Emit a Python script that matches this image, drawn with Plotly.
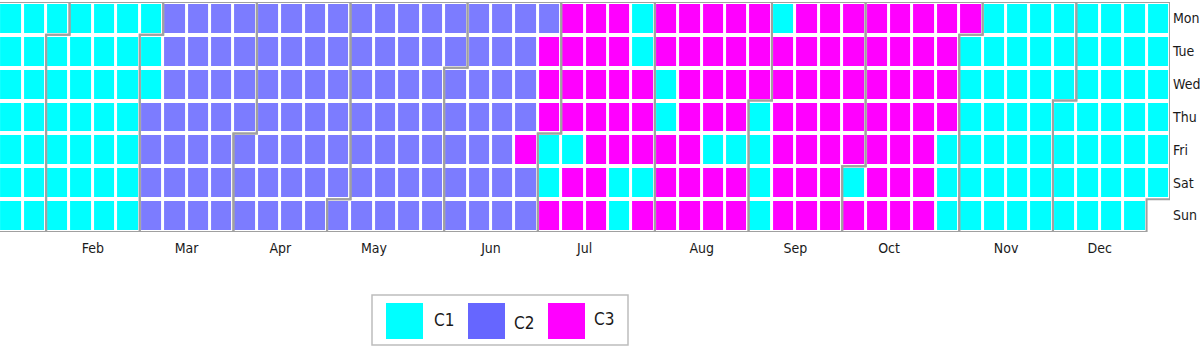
import datetime as dt
import plotly.graph_objects as go

# Calendar for 2022: one column per week (weeks start on Monday 2021-12-27),
# one list per weekday. 1 = C1, 2 = C2, 3 = C3, None = day outside the year.
YEAR = 2022
WEEKDAYS = ["Mon", "Tue", "Wed", "Thu", "Fri", "Sat", "Sun"]

MON = [None, 1, 1, 1, 1, 1, 1, 1, 1, 1, 2, 2, 2, 2, 2, 2, 2, 2, 2, 2, 2, 2, 2, 2, 2, 2, 2,
       3, 3, 3, 1, 3, 3, 3, 3, 3, 1, 3, 3, 3, 3, 3, 3, 3, 3, 1, 1, 1, 1, 1, 1, 1, 1]
TUE = [None, 1, 1, 1, 1, 1, 1, 1, 1, 1, 2, 2, 2, 2, 2, 2, 2, 2, 2, 2, 2, 2, 2, 2, 2, 2, 3,
       3, 3, 3, 1, 3, 3, 3, 3, 3, 3, 3, 3, 3, 3, 3, 3, 3, 1, 1, 1, 1, 1, 1, 1, 1, 1]
WED = [None, 1, 1, 1, 1, 1, 1, 1, 1, 1, 2, 2, 2, 2, 2, 2, 2, 2, 2, 2, 2, 2, 2, 2, 2, 2, 3,
       3, 3, 3, 3, 1, 3, 3, 3, 3, 3, 3, 3, 3, 3, 3, 3, 3, 1, 1, 1, 1, 1, 1, 1, 1, 1]
THU = [None, 1, 1, 1, 1, 1, 1, 1, 1, 2, 2, 2, 2, 2, 2, 2, 2, 2, 2, 2, 2, 2, 2, 2, 2, 2, 3,
       3, 3, 3, 3, 1, 3, 3, 3, 1, 3, 3, 3, 3, 3, 3, 3, 3, 1, 1, 1, 1, 1, 1, 1, 1, 1]
FRI = [None, 1, 1, 1, 1, 1, 1, 1, 1, 2, 2, 2, 2, 2, 2, 2, 2, 2, 2, 2, 2, 2, 2, 2, 2, 3, 1,
       1, 3, 3, 3, 3, 3, 1, 1, 1, 3, 3, 3, 3, 3, 3, 3, 1, 1, 1, 1, 1, 1, 1, 1, 1, 1]
SAT = [1, 1, 1, 1, 1, 1, 1, 1, 1, 2, 2, 2, 2, 2, 2, 2, 2, 2, 2, 2, 2, 2, 2, 2, 2, 2, 1,
       3, 3, 1, 1, 3, 3, 3, 3, 1, 3, 3, 3, 1, 3, 3, 3, 1, 1, 1, 1, 1, 1, 1, 1, 1, 1]
SUN = [1, 1, 1, 1, 1, 1, 1, 1, 1, 2, 2, 2, 2, 2, 2, 2, 2, 2, 2, 2, 2, 2, 2, 2, 2, 2, 3,
       3, 3, 1, 3, 3, 3, 3, 3, 1, 3, 3, 3, 3, 3, 3, 3, 1, 1, 1, 1, 1, 1, 1, 1, 1, None]

CLUSTERS = ["C1", "C2", "C3"]
CELL_COLORS = ["#00FFFF", "#7C7CFF", "#FF00FF"]
LEGEND_COLORS = ["#00FFFF", "#6666FF", "#FF00FF"]

MONTHS = ["Jan", "Feb", "Mar", "Apr", "May", "Jun", "Jul", "Aug", "Sep", "Oct", "Nov", "Dec"]
MONTH_LABEL_POS = [1.5, 6.5, 10.5, 14.5, 18.5, 23.5, 27.5, 32.5, 36.5, 40.5, 45.5, 49.5]

FONT = "Liberation Sans Narrow, DejaVu Sans Condensed, Arial Narrow, sans-serif"

rows = [MON, TUE, WED, THU, FRI, SAT, SUN]
n_weeks = len(MON)

fig = go.Figure()

colorscale = [
    [0.0, CELL_COLORS[0]], [1 / 3, CELL_COLORS[0]],
    [1 / 3, CELL_COLORS[1]], [2 / 3, CELL_COLORS[1]],
    [2 / 3, CELL_COLORS[2]], [1.0, CELL_COLORS[2]],
]
fig.add_trace(go.Heatmap(
    z=rows,
    x=list(range(n_weeks)),
    y=list(range(7)),
    zmin=0.5, zmax=3.5,
    colorscale=colorscale,
    showscale=False,
    xgap=3, ygap=4,
    hoverongaps=False,
))

# Month outlines, derived from the calendar position of each date
week0 = dt.date(YEAR, 1, 1) - dt.timedelta(days=dt.date(YEAR, 1, 1).weekday())


def cell(d):
    return (d - week0).days // 7, d.weekday()


for m in range(1, 13):
    first = dt.date(YEAR, m, 1)
    nxt = dt.date(YEAR + (m == 12), m % 12 + 1, 1)
    last = nxt - dt.timedelta(days=1)
    c1, r1 = cell(first)
    c2, r2 = cell(last)
    pts = [
        (c1 - 0.5, r1 - 0.5), (c1 + 0.5, r1 - 0.5), (c1 + 0.5, -0.5),
        (c2 + 0.5, -0.5), (c2 + 0.5, r2 + 0.5), (c2 - 0.5, r2 + 0.5),
        (c2 - 0.5, 6.5), (c1 - 0.5, 6.5),
    ]
    path = "M " + " L ".join(f"{x},{y}" for x, y in pts) + " Z"
    fig.add_shape(type="path", path=path, xref="x", yref="y",
                  line=dict(color="#A0A0A0", width=2), layer="above")

# Legend drawn beneath the calendar
W, H = 1200, 346
ML, MR, MT, MB = 0, 30, 2, 114
PW, PH = W - ML - MR, H - MT - MB


def px(x):
    return (x - ML) / PW


def py(y):
    return (H - MB - y) / PH


fig.add_shape(type="rect", xref="paper", yref="paper",
              x0=px(372), x1=px(628), y0=py(295), y1=py(345),
              line=dict(color="#BDBDBD", width=1.5), fillcolor="white")
patch_x = [386, 468, 548]
text_x = [444, 524, 604]
text_y = [320, 323, 319]
for i, name in enumerate(CLUSTERS):
    fig.add_shape(type="rect", xref="paper", yref="paper",
                  x0=px(patch_x[i]), x1=px(patch_x[i] + 37), y0=py(303), y1=py(339),
                  line=dict(width=0), fillcolor=LEGEND_COLORS[i])
    fig.add_annotation(x=px(text_x[i]), y=py(text_y[i]), xref="paper", yref="paper",
                       text=name, showarrow=False, xanchor="center", yanchor="middle",
                       font=dict(family=FONT, size=17, color="#1a1a1a"))

fig.update_xaxes(
    range=[2.53, n_weeks - 0.5],
    tickvals=MONTH_LABEL_POS, ticktext=MONTHS,
    showgrid=False, zeroline=False, showline=False, ticks="",
    ticklabelstandoff=6,
    tickfont=dict(family=FONT, size=14, color="#1a1a1a"),
)
fig.update_yaxes(
    range=[6.5, -0.5],
    tickvals=list(range(7)), ticktext=WEEKDAYS,
    side="right",
    showgrid=False, zeroline=False, showline=False, ticks="",
    ticklabelstandoff=2,
    tickfont=dict(family=FONT, size=14, color="#1a1a1a"),
)
fig.update_layout(
    width=W, height=H,
    margin=dict(l=ML, r=MR, t=MT, b=MB),
    plot_bgcolor="white", paper_bgcolor="white",
    showlegend=False,
)

fig.write_html("out.html")
